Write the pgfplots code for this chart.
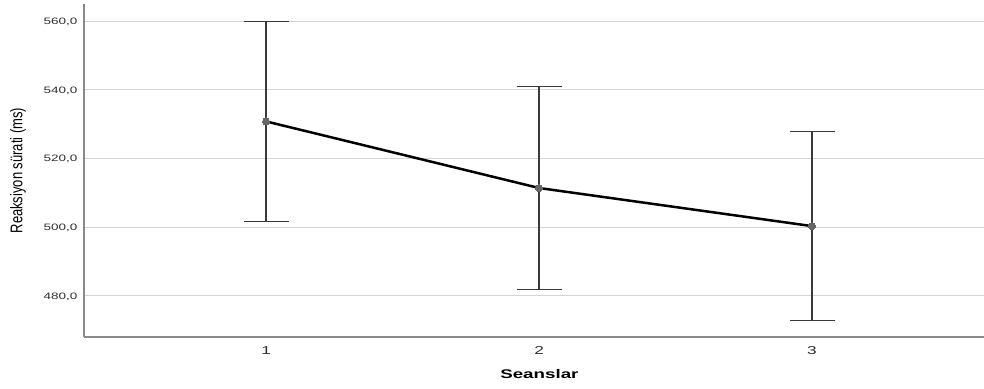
\documentclass[border=0pt]{standalone}
\usepackage{pgfplots}
\pgfplotsset{compat=1.18}
\usepackage{fontspec}
\setmainfont{Liberation Sans}
\definecolor{gridc}{HTML}{D4D4D4}
\definecolor{axc}{HTML}{8A8A8A}
\definecolor{tickc}{HTML}{2E2E2E}
\definecolor{errc}{HTML}{3A3A3A}
\definecolor{markc}{HTML}{666666}
\begin{document}
\begin{tikzpicture}
\begin{axis}[
  at={(84pt,51pt)}, anchor=south west,
  scale only axis, width=900pt, height=333pt,
  xmin=0.333, xmax=3.63, ymin=468, ymax=565,
  axis x line*=bottom, axis y line*=left,
  axis line style={color=axc, line width=1.3pt, -},
  xtick={1,2,3},
  xticklabels={{\scalebox{1.5}[1]{1}},{\scalebox{1.5}[1]{2}},{\scalebox{1.5}[1]{3}}},
  ytick={480,500,520,540,560},
  yticklabels={{\scalebox{1.45}[1]{480,0}},{\scalebox{1.45}[1]{500,0}},{\scalebox{1.45}[1]{520,0}},{\scalebox{1.45}[1]{540,0}},{\scalebox{1.45}[1]{560,0}}},
  major tick length=0pt,
  ymajorgrids, grid style={color=gridc, line width=1.1pt},
  yticklabel style={font=\fontsize{9.3}{10}\selectfont, color=tickc, anchor=east, inner sep=0pt, xshift=-6.5pt, yshift=-0.8pt},
  xticklabel style={font=\fontsize{11.5}{12}\selectfont, color=tickc, anchor=center, inner sep=0pt, yshift=-13.7pt},
  xlabel={\scalebox{1.5}[1]{\bfseries Seanslar}},
  xlabel style={font=\fontsize{12.5}{14}\selectfont, at={(axis description cs:0.506,0)}, anchor=center, yshift=-37pt, inner sep=0pt},
  ylabel={\scalebox{1}[1.3]{Reaksiyon sürati (ms)}},
  ylabel style={font=\fontsize{13}{15}\selectfont, at={(axis description cs:-0.0733,0.5)}, anchor=center, inner sep=0pt},
  clip=false,
]
\addplot[draw=none, mark=none, forget plot,
  error bars/.cd, y dir=both, y explicit,
  error bar style={color=errc, line width=1.2pt},
  error mark=|, error mark options={color=errc, line width=1.2pt, mark size=22.5pt}]
  coordinates {
  (1,530.8) +- (0,29.1)
  (2,511.4) +- (0,29.5)
  (3,500.3) +- (0,27.6)
};
\addplot[black, line width=2.5pt, mark=none] coordinates {
  (1,530.8) (2,511.4) (3,500.3)
};
\addplot[draw=none, mark=*, mark size=3.5pt, mark options={fill=markc, draw=markc, line width=0pt}] coordinates {
  (1,530.8) (2,511.4) (3,500.3)
};
\end{axis}
\pgfresetboundingbox
\path (0,0) rectangle (984pt,388pt);
\end{tikzpicture}
\end{document}
